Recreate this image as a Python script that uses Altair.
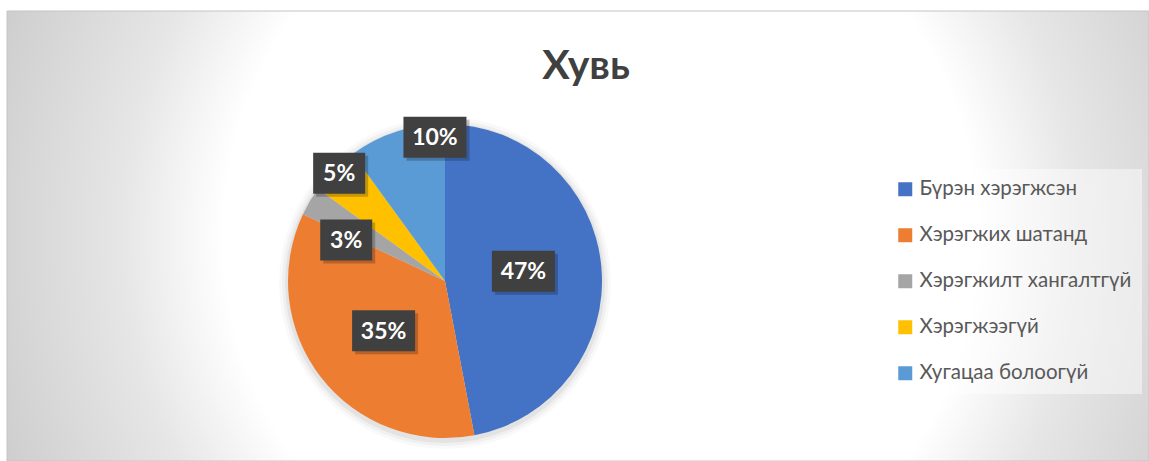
import altair as alt
import pandas as pd

# ---- data ----
categories = ["Бүрэн хэрэгжсэн", "Хэрэгжих шатанд", "Хэрэгжилт хангалтгүй", "Хэрэгжээгүй", "Хугацаа болоогүй"]
values = [47, 35, 3, 5, 10]
colors = ["#4472C4", "#ED7D31", "#A5A5A5", "#FFC000", "#5B9BD5"]
title_text = "Хувь"

# ---- layout (label placement like Excel's best fit) ----
label_radius = [79, 79, 107, 151, 144]
label_angle_shift = [-1.6, -1.2, -8.0, 0.5, 14.0]

W, H = 1149, 461
CX, CY, R = 445, 281, 157
FONT = "Lato, Open Sans, Noto Sans"

df = pd.DataFrame({
    "category": categories,
    "value": values,
    "idx": list(range(len(categories))),
    "lr": label_radius,
    "dang": label_angle_shift,
})

one = alt.Data(values=[{}])

gradient = alt.RadialGradient(
    gradient="radial",
    stops=[
        alt.GradientStop(color="#ffffff", offset=0),
        alt.GradientStop(color="#ffffff", offset=0.44),
        alt.GradientStop(color="#e6e6e6", offset=0.56),
        alt.GradientStop(color="#cacaca", offset=0.77),
        alt.GradientStop(color="#c0c0c0", offset=1),
    ],
    x1=0.52, y1=0.5, x2=0.52, y2=0.5, r1=0, r2=0.75,
)

bg = alt.Chart(one).mark_rect(fill=gradient, stroke="#c4c4c4", strokeWidth=1).encode(
    x=alt.value(7), x2=alt.value(W), y=alt.value(11), y2=alt.value(H)
)

halos = [
    alt.Chart(one).mark_arc(outerRadius=R + rr, theta=0, theta2=6.2832, fill="#000000", opacity=op).encode(
        x=alt.value(CX), y=alt.value(CY + 2)
    )
    for rr, op in [(9, 0.025), (6, 0.035), (3, 0.05)]
]

pie = alt.Chart(df).mark_arc(outerRadius=R).encode(
    theta=alt.Theta("value:Q", stack=True),
    order=alt.Order("idx:Q"),
    color=alt.Color(
        "category:N",
        sort=categories,
        scale=alt.Scale(domain=categories, range=colors),
        legend=alt.Legend(
            title=None,
            orient="none",
            legendX=885,
            legendY=169,
            symbolType="square",
            symbolSize=196,
            symbolStrokeWidth=0,
            labelFont=FONT,
            labelFontSize=20.5,
            labelColor="#595959",
            labelOffset=4,
            rowPadding=25,
            padding=10,
            fillColor="rgba(255,255,255,0.45)",
            labelLimit=400,
        ),
    ),
    x=alt.value(CX),
    y=alt.value(CY),
)

base = alt.Chart(df).transform_window(
    cum="sum(value)", sort=[alt.SortField("idx")], frame=[None, 0]
).transform_joinaggregate(total="sum(value)").transform_calculate(
    ang="((datum.cum - datum.value/2)/datum.total*360 + datum.dang)*PI/180",
    lx=f"{CX} + datum.lr*sin(datum.ang)",
    ly=f"{CY} - datum.lr*cos(datum.ang)",
    txt="datum.value + '%'",
).transform_calculate(
    bw="30 + 11*length(datum.txt)",
).transform_calculate(
    bx1="datum.lx - datum.bw/2",
    bx2="datum.lx + datum.bw/2",
    by1="datum.ly - 20.5",
    by2="datum.ly + 20.5",
    sx1="datum.lx - datum.bw/2 + 3",
    sx2="datum.lx + datum.bw/2 + 3",
    sy1="datum.ly - 20.5 + 3",
    sy2="datum.ly + 20.5 + 3",
)

shadow = base.mark_rect(fill="#000000", opacity=0.22).encode(
    x=alt.X("sx1:Q", scale=None, axis=None), x2="sx2:Q",
    y=alt.Y("sy1:Q", scale=None, axis=None), y2="sy2:Q",
)
box = base.mark_rect(fill="#404040").encode(
    x=alt.X("bx1:Q", scale=None, axis=None), x2="bx2:Q",
    y=alt.Y("by1:Q", scale=None, axis=None), y2="by2:Q",
)
text = base.mark_text(
    font=FONT, fontSize=23, fontWeight="bold", color="#ffffff", align="center", baseline="middle", dy=1
).encode(
    x=alt.X("lx:Q", scale=None, axis=None),
    y=alt.Y("ly:Q", scale=None, axis=None),
    text="txt:N",
)

title = alt.Chart(one).mark_text(
    text=title_text, font=FONT, fontSize=41, fontWeight="bold", color="#404040",
    align="center", baseline="alphabetic",
).encode(x=alt.value(586), y=alt.value(79))

chart = alt.layer(bg, *halos, pie, shadow, box, text, title).resolve_scale(
    x="independent", y="independent"
).properties(
    width=W, height=H, padding=0, autosize="none", background="#ffffff"
).configure_view(stroke=None)

chart.save("out.html", embed_options={"renderer": "svg", "actions": False})
